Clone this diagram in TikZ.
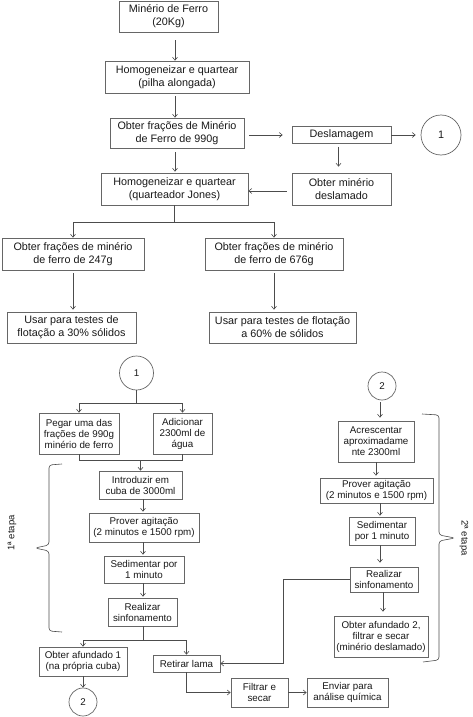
\documentclass[tikz,border=0pt]{standalone}
\usepackage{fontspec}
\setmainfont{Liberation Sans}
\usetikzlibrary{arrows.meta}

\begin{document}
\begin{tikzpicture}[
    x=1pt, y=-1pt,
    % Boxes: thin grey frame, size given per node
    box/.style={draw=black!60, line width=0.7pt, fill=white, inner sep=1pt,
                align=center, text=black!90},
    wh/.style 2 args={minimum width=#1pt, minimum height=#2pt},
    topbox/.style={box, font=\fontsize{10.8}{13}\selectfont},
    lowbox/.style={box, font=\fontsize{9.8}{11}\selectfont},
    % Page connectors
    conn/.style={circle, draw=black!60, line width=0.7pt, inner sep=0pt,
                 text=black!90},
    % Stage label beside a brace
    stage/.style={font=\fontsize{9.5}{11}\selectfont, text=black!90},
    % Lines
    arr/.style={-{Straight Barb[length=3pt,width=5pt]}, line width=0.6pt, draw=black!70},
    ln/.style={line width=0.6pt, draw=black!70},
    brc/.style={line width=0.6pt, draw=black!70, rounded corners=3pt},
]
\useasboundingbox (0,0) rectangle (473,717);

% Coordinates in pixels of the 473x717 sheet, y going down

%% ── Upper chart: sample preparation ──
\node[topbox, wh={99}{31}]  (ore)       at (168.5, 16.5) {Minério de Ferro\\(20Kg)};
\node[topbox, wh={144}{32}] (pilha)     at (177,   77)   {Homogeneizar e quartear\\(pilha alongada)};
\node[topbox, wh={134}{30}] (frac990)   at (177,  133)   {Obter frações de Minério\\de Ferro de 990g};
\node[topbox, wh={99}{17}]  (deslam)    at (341.5,135)   {Deslamagem};
\node[conn, minimum size=40pt, font=\fontsize{10.8}{13}\selectfont] (c1a) at (441,135) {1};
\node[topbox, wh={99}{32}]  (deslamado) at (341.5,189)   {Obter minério\\deslamado};
\node[topbox, wh={147}{32}] (jones)     at (174.5,189)   {Homogeneizar e quartear\\(quarteador Jones)};
\node[topbox, wh={142}{32}] (f247)      at (73,   254)   {Obter frações de minério\\de ferro de 247g};
\node[topbox, wh={138}{32}] (f676)      at (274,  254)   {Obter frações de minério\\de ferro de 676g};
\node[topbox, wh={129}{31}] (u30)       at (71.5, 327.5) {Usar para testes de\\flotação a 30\% sólidos};
\node[topbox, wh={147}{31}] (u60)       at (282.5,327.5) {Usar para testes de flotação\\a 60\% de sólidos};

\draw[arr, shorten <=8pt] ([xshift=6.5pt]ore.south) -- ([xshift=-2pt]pilha.north);
\draw[arr, shorten <=3pt] ([xshift=-2pt]pilha.south) -- ([xshift=-2pt]frac990.north);
\draw[arr, shorten <=5pt, shorten >=9pt] (frac990.east |- deslam.west) -- (deslam.west);
\draw[arr, shorten >=5pt] (deslam.east) -- (c1a.west);
\draw[arr, shorten <=3pt, shorten >=6pt] ([xshift=-3pt]deslam.south) -- ([xshift=-3pt]deslamado.north);
\draw[arr, shorten <=4pt, shorten >=1pt] ([xshift=-2pt]frac990.south) -- ([xshift=0.5pt]jones.north);
\draw[arr, shorten <=5pt] ([yshift=-2pt]deslamado.west) -- ([yshift=-2pt]jones.east);
\draw[arr] (jones.south) -- ++(0,17) -| (f247.north);
\draw[arr] (jones.south) -- ++(0,17) -| (f676.north);
\draw[arr, shorten <=3pt, shorten >=2pt] (f247.south) -- (f247.south |- u30.north);
\draw[arr, shorten <=3pt, shorten >=2pt] (f676.south) -- (f676.south |- u60.north);

%% ── Lower chart: 1st stage ──
\node[conn, minimum size=34pt, font=\fontsize{9.8}{11}\selectfont] (c1b) at (136.5,373) {1};
\node[lowbox, wh={80}{41}]  (pegar)   at (79,   433.5) {Pegar uma das\\frações de 990g\\minério de ferro};
\node[lowbox, wh={59}{41}]  (adic)    at (182.5,433.5) {Adicionar\\2300ml de\\água};
\node[lowbox, wh={83}{28}]  (introd)  at (140.5,485)   {Introduzir em\\cuba de 3000ml};
\node[lowbox, wh={110}{29}] (agit1)   at (144,  527.5) {Prover agitação\\(2 minutos e 1500 rpm)};
\node[lowbox, wh={80}{27}]  (sed1)    at (144,  569.5) {Sedimentar por\\1 minuto};
\node[lowbox, wh={69}{28}]  (sif1)    at (142.5,612)   {Realizar\\sinfonamento};
\node[lowbox, wh={88}{29}]  (afund1)  at (83,   661.5) {Obter afundado 1\\(na própria cuba)};
\node[conn, minimum size=28pt, font=\fontsize{9.8}{11}\selectfont] (c2a) at (83,702) {2};
\node[lowbox, wh={67}{17}]  (lama)    at (186.5,663.5) {Retirar lama};
\node[lowbox, wh={57}{29}]  (filtrar) at (259.5,692.5) {Filtrar e\\secar};
\node[lowbox, wh={81}{29}]  (enviar)  at (347.5,692.5) {Enviar para\\análise química};

\draw[arr] (c1b.south) -- ++(0,13) -| (pegar.north);
\draw[arr] (c1b.south) -- ++(0,13) -| (adic.north);
\draw[ln] (pegar.south) -- ++(0,6) coordinate (mrg) -| (adic.south);
\draw[arr] (mrg -| introd.north) -- (introd.north);
\draw[arr, shorten >=1pt] ([xshift=2.5pt]introd.south) -- ([xshift=-1pt]agit1.north);
\draw[arr, shorten >=1pt] ([xshift=-1pt]agit1.south) -- ([xshift=-1pt]sed1.north);
\draw[arr, shorten >=1pt] ([xshift=-1pt]sed1.south) -- ([xshift=0.5pt]sif1.north);
\draw[arr] ([xshift=0.5pt]sif1.south) -- ++(0,14) -| (afund1.north);
\draw[arr] ([xshift=0.5pt]sif1.south) -- ++(0,14) -| (lama.north);
\draw[arr] (afund1.south) -- (c2a.north);
\draw[arr] (lama.south) |- (filtrar.west);
\draw[arr] (filtrar.east) -- (enviar.west);

%% ── Lower chart: 2nd stage ──
\node[conn, minimum size=28pt, font=\fontsize{9.8}{11}\selectfont] (c2b) at (382,386) {2};
\node[lowbox, wh={76}{41}]  (acresc) at (376,  441.5) {Acrescentar\\aproximadame\\nte 2300ml};
\node[lowbox, wh={113}{25}] (agit2)  at (376.5,490.5) {Prover agitação\\(2 minutos e 1500 rpm)};
\node[lowbox, wh={66}{28}]  (sed2)   at (382,  531)   {Sedimentar\\por 1 minuto};
\node[lowbox, wh={68}{25}]  (sif2)   at (384,  579.5) {Realizar\\sinfonamento};
\node[lowbox, wh={94}{41}]  (afund2) at (381,  636.5) {Obter afundado 2,\\filtrar e secar\\(minério deslamado)};

\draw[arr, shorten <=2pt, shorten >=3pt] ([xshift=-2pt]c2b.south) -- ([xshift=4pt]acresc.north);
\draw[arr, shorten >=2pt] (acresc.south) -- ([xshift=-0.5pt]agit2.north);
\draw[arr, shorten >=1pt] ([xshift=3.5pt]agit2.south) -- ([xshift=-2pt]sed2.north);
\draw[arr, shorten >=4pt] ([xshift=-2pt]sed2.south) -- ([xshift=-4pt]sif2.north);
\draw[arr, shorten >=4pt] ([xshift=-1pt]sif2.south) -- ([xshift=2pt]afund2.north);
\draw[arr] (sif2.west) -- ++(-66,0) |- (lama.east);

%% ── Stage braces ──
\draw[brc] (62,464) -- (49,465) -- (49,545) -- (35,548) -- (49,551) -- (49,631) -- (62,632);
\node[stage, rotate=90]  (et1) at (12,533)  {1ª etapa};
\draw[brc] (422,414) -- (439,415) -- (439,535) -- (455,538) -- (439,541) -- (439,660) -- (423,662);
\node[stage, rotate=-90] (et2) at (464,538) {2ª etapa};

\end{tikzpicture}
\end{document}
